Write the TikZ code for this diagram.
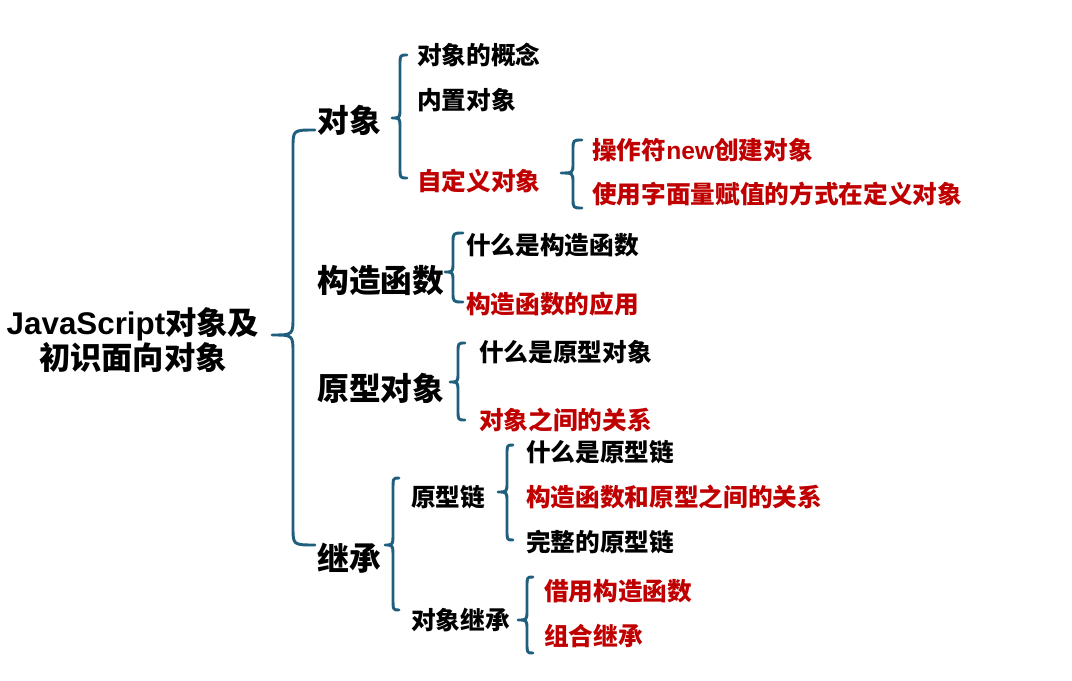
\documentclass[tikz,border=0pt]{standalone}
\usepackage{fontspec}
\setmainfont{Noto Sans CJK SC}
\newfontfamily\lat{Liberation Sans}
\definecolor{bracecol}{RGB}{31,94,124}
\definecolor{redtxt}{RGB}{192,0,0}
\tikzset{
  brc/.style={draw=bracecol, line width=2.2pt, line cap=round, line join=round},
  root/.style={font=\fontsize{23.5pt}{26.5pt}\selectfont\bfseries, align=center, inner sep=0pt},
  lvone/.style={font=\fontsize{23.8pt}{27pt}\selectfont\bfseries, anchor=west, inner sep=0pt},
  item/.style={font=\fontsize{18.5pt}{22pt}\selectfont\bfseries, anchor=west, inner sep=0pt},
  blk/.style={text=black},
  red/.style={text=redtxt}
}
% #1 xend, #2 xv, #3 xtip, #4 ytop, #5 ytip, #6 ybot, #7 r
\newcommand\curlybr[7]{%
  \draw[brc] (#1,#4) .. controls (#2,#4) .. (#2,#4+#7) -- (#2,#5-#7)
     .. controls (#2,#5) .. (#3,#5) .. controls (#2,#5) .. (#2,#5+#7)
     -- (#2,#6-#7) .. controls (#2,#6) .. (#1,#6);}
\begin{document}
\begin{tikzpicture}[x=0.75pt,y=-0.75pt]
\useasboundingbox (0,0) rectangle (1072,681);
% root
\node[root] (root) at (133,340) {{\lat\bfseries JavaScript}对象及\\初识面向对象};
% level one
\node[lvone] (dx) at (317,120) {对象};
\node[lvone] (gz) at (317,281) {构造函数};
\node[lvone] (yx) at (317,388) {原型对象};
\node[lvone] (jc) at (317,558) {继承};
% 对象
\node[item,blk] (a1) at (417,55) {对象的概念};
\node[item,blk] (a2) at (417,100) {内置对象};
\node[item,red] (a3) at (417,181) {自定义对象};
\node[item,red] (a31) at (592,150) {操作符{\lat\bfseries new}创建对象};
\node[item,red] (a32) at (592,194) {使用字面量赋值的方式在定义对象};
% 构造函数
\node[item,blk] (b1) at (466,245) {什么是构造函数};
\node[item,red] (b2) at (466,304) {构造函数的应用};
% 原型对象
\node[item,blk] (c1) at (479,352) {什么是原型对象};
\node[item,red] (c2) at (479,420) {对象之间的关系};
% 继承
\node[item,blk] (d1) at (411,497) {原型链};
\node[item,blk] (d2) at (411,620) {对象继承};
\node[item,blk] (d11) at (526,452) {什么是原型链};
\node[item,red] (d12) at (526,497) {构造函数和原型之间的关系};
\node[item,blk] (d13) at (526,542) {完整的原型链};
\node[item,red] (d21) at (544,591) {借用构造函数};
\node[item,red] (d22) at (544,636) {组合继承};
% braces
\curlybr{315}{293}{272}{130}{335}{545}{18}
\curlybr{407}{400}{392}{55}{118}{178}{10}
\curlybr{582}{573}{561}{140}{173}{208}{10}
\curlybr{463}{453}{445}{233}{272}{302}{10}
\curlybr{465}{458}{450}{343}{382}{420}{10}
\curlybr{399}{393}{385}{478}{545}{610}{12}
\curlybr{513}{507}{498}{445}{492}{540}{10}
\curlybr{533}{527}{518}{577}{620}{653}{10}
\end{tikzpicture}
\end{document}
